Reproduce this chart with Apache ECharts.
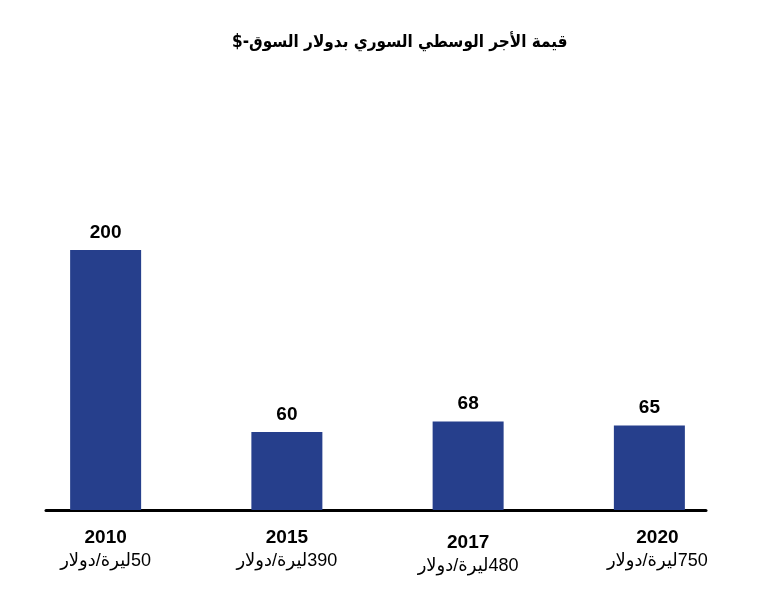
<!DOCTYPE html>
<html>
<head>
<meta charset="utf-8">
<script src="https://cdn.jsdelivr.net/npm/echarts@6/dist/echarts.min.js"></script>
<style>
html,body{margin:0;padding:0;background:#fff;}
#c{width:778px;height:602px;}
</style>
</head>
<body>
<div id="c"></div>
<script>
var titleText = "قيمة الأجر الوسطي السوري بدولار السوق-$";
var years = ["2010", "2015", "2017", "2020"];
var rates = ["50", "390", "480", "750"];
var rateUnit = "ليرة/دولار";
var wages = [200, 60, 68, 65];

var RLM = "\u200F";
var labelPads = [[0,0,0,0],[0,0,0,0],[5,0,0,0],[0,0,0,16]];

var chart = echarts.init(document.getElementById('c'));
chart.setOption({
  backgroundColor: '#ffffff',
  animation: false,
  title: {
    text: RLM + titleText + RLM,
    left: 227,
    top: 29,
    textStyle: {
      fontFamily: 'DejaVu Sans Condensed, DejaVu Sans',
      fontWeight: 'bold',
      fontSize: 17,
      color: '#000'
    }
  },
  grid: [
    {left: 15, right: 38, top: 250, bottom: 92},
    {left: 46, right: 72, top: 250, bottom: 92}
  ],
  xAxis: [{
    type: 'category',
    gridIndex: 0,
    data: years.map(function (y, i) {
      return {value: y, textStyle: {padding: labelPads[i]}};
    }),
    axisLine: {show: false},
    axisTick: {show: false},
    axisLabel: {
      margin: 16,
      interval: 0,
      formatter: function (v, idx) {
        return '{y|' + v + '}\n{r|' + RLM + rates[idx] + rateUnit + RLM + '}';
      },
      rich: {
        y: {fontFamily: 'Liberation Sans', fontWeight: 'bold', fontSize: 19, color: '#000', lineHeight: 24, align: 'center'},
        r: {fontFamily: 'Liberation Sans, DejaVu Sans', fontSize: 18, color: '#000', lineHeight: 22, align: 'center'}
      }
    }
  }, {
    type: 'value',
    gridIndex: 1,
    min: 0, max: 1,
    axisLine: {show: true, lineStyle: {color: '#000', width: 3}},
    axisTick: {show: false},
    axisLabel: {show: false},
    splitLine: {show: false}
  }],
  yAxis: [{
    type: 'value',
    gridIndex: 0,
    min: 0,
    max: 200,
    show: false
  }, {
    type: 'value',
    gridIndex: 1,
    min: 0, max: 1,
    show: false
  }],
  series: [{
    type: 'bar',
    xAxisIndex: 0,
    yAxisIndex: 0,
    data: wages,
    barWidth: 71,
    itemStyle: {color: '#263f8c'},
    label: {
      show: true,
      position: 'top',
      distance: 8,
      fontFamily: 'Liberation Sans',
      fontWeight: 'bold',
      fontSize: 19,
      color: '#000'
    }
  }]
});
</script>
</body>
</html>
